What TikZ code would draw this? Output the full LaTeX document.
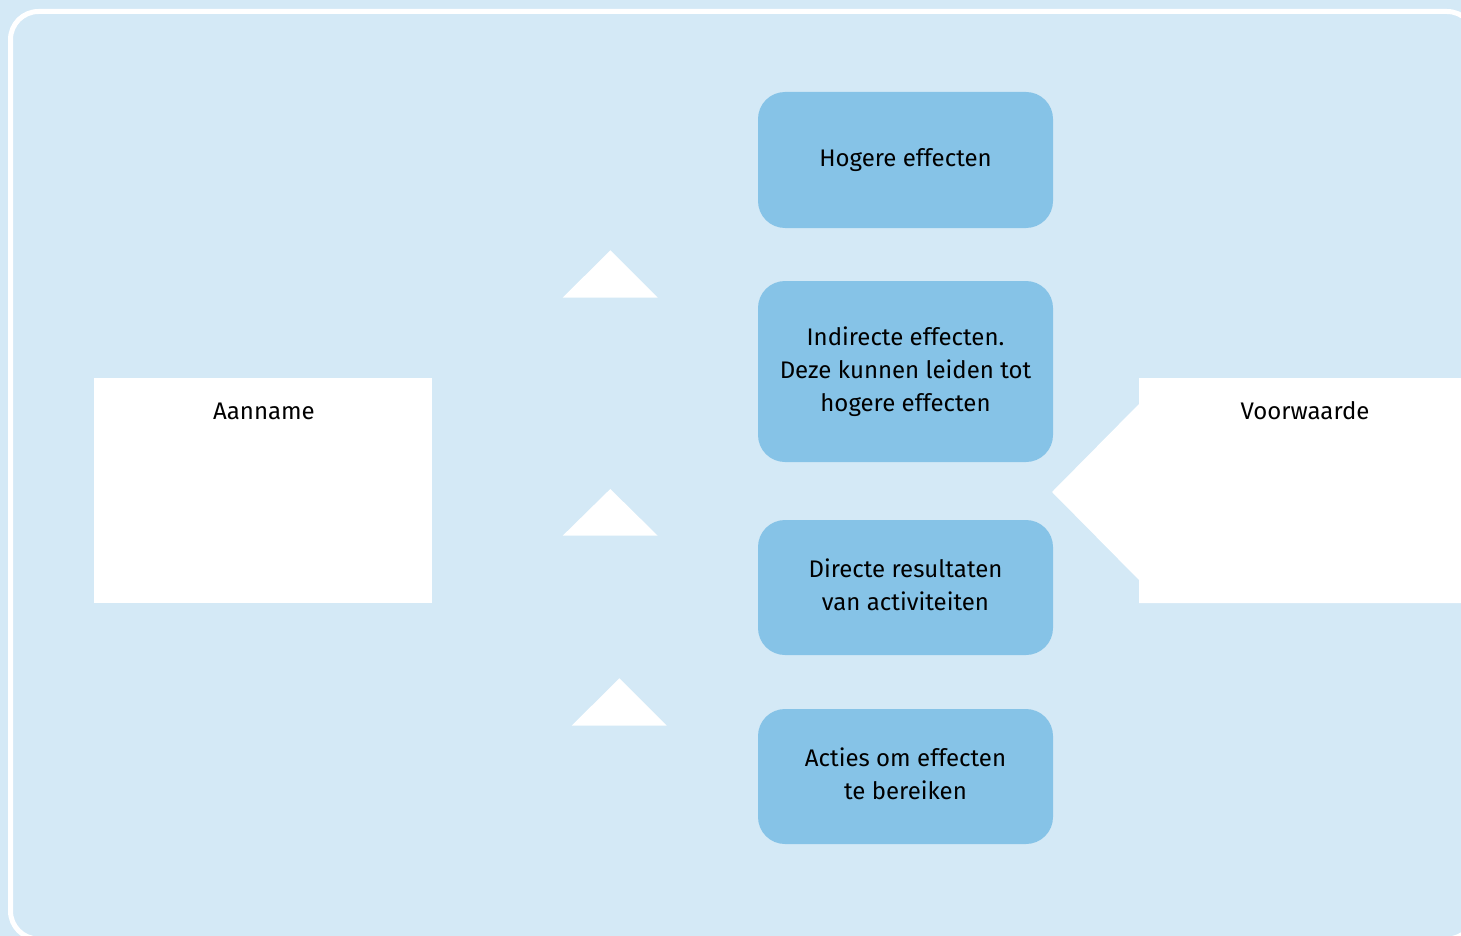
\documentclass[tikz,border=0pt]{standalone}
\usepackage{fontspec}
\setmainfont{Fira Sans}
\definecolor{bg}{RGB}{212,233,246}
\definecolor{boxblue}{RGB}{134,195,231}
\begin{document}
\begin{tikzpicture}[x=1pt,y=-1pt,
  stepbox/.style={fill=boxblue, rounded corners=27pt, minimum width=295pt, inner sep=0pt, align=center, font=\fontsize{24}{33}\selectfont, text=black},
  whitebox/.style={fill=white, inner sep=0pt},
  lbl/.style={font=\fontsize{24}{33}\selectfont, anchor=base, text=black, inner sep=0pt},
  uptri/.style={fill=white}]
\useasboundingbox (0,0) rectangle (1461,936);
\clip (0,0) rectangle (1461,936);
\fill[bg] (0,0) rectangle (1461,936);
\draw[white, line width=5pt, rounded corners=28pt] (10.5,11.5) rectangle (1475,939);

% blue step boxes
\node[stepbox, minimum height=136pt] (hog) at (905.5,160) {Hogere effecten};
\node[stepbox, minimum height=181pt] (ind) at (905.5,371.5) {Indirecte effecten.\\Deze kunnen leiden tot\\hogere effecten};
\node[stepbox, minimum height=135pt] (dir) at (905.5,587.5) {Directe resultaten\\van activiteiten\vphantom{g}};
\node[stepbox, minimum height=135pt] (act) at (905.5,776.5) {Acties om effecten\\te bereiken\vphantom{g}};

% white triangles (upward arrows)
\fill[uptri] (562.7,297.7) -- (610.3,250.3) -- (657.7,297.7) -- cycle;
\fill[uptri] (562.7,535.7) -- (610.3,489) -- (657.7,535.7) -- cycle;
\fill[uptri] (571.7,725.7) -- (619.3,678.3) -- (666.7,725.7) -- cycle;

% Aanname box
\node[whitebox, minimum width=338pt, minimum height=225pt] (aan) at (263,490.5) {};
\node[lbl] (aant) at (264,419) {Aanname};

% Voorwaarde box with left-pointing notch
\fill[white] (1139,378) -- (1480,378) -- (1480,603) -- (1139,603) -- (1139,580) -- (1052,492) -- (1139,404) -- cycle;
\coordinate (voor) at (1305,490.5);
\node[lbl] (voort) at (1305,419) {Voorwaarde};
\end{tikzpicture}
\end{document}
